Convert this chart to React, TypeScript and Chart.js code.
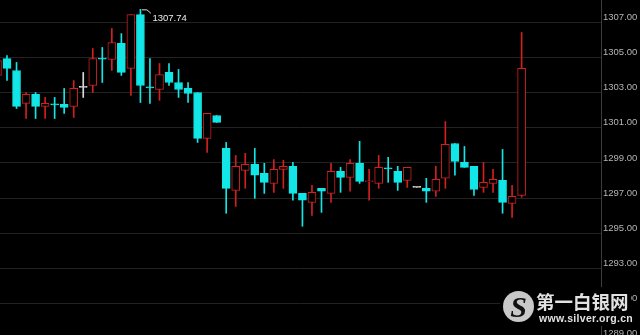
import React, { useEffect, useRef } from "react";
import { Chart, registerables } from "chart.js";

Chart.register(...registerables);

// OHLC values (index 0 is the candle cut by the left edge)
const opens = [
  1303.98, 1304.94, 1304.26, 1302.39, 1302.9, 1302.22, 1302.36, 1302.33, 1302.22, 1303.3,
  1303.41, 1304.97, 1304.89, 1305.8, 1304.38, 1307.44, 1303.33, 1303.18, 1304.15, 1303.58,
  1303.24, 1303.01, 1300.4, 1301.7, 1299.83, 1297.44, 1298.58, 1298.92, 1298.41, 1297.84,
  1298.64, 1298.81, 1297.27, 1296.76, 1297.56, 1297.27, 1298.52, 1298.18, 1298.98, 1297.93,
  1297.84, 1298.72, 1298.52, 1298.01, 1297.61, 1297.56, 1297.39, 1298.13, 1300.11, 1299.03,
  1298.81, 1297.61, 1297.84, 1298.01, 1296.7, 1297.16,
];
const highs = [
  1305.0, 1305.11, 1304.72, 1303.01, 1303.01, 1302.73, 1302.73, 1303.24, 1303.69, 1304.15,
  1305.51, 1305.57, 1306.65, 1306.36, 1307.44, 1307.74, 1304.94, 1304.66, 1304.66, 1304.32,
  1303.58, 1303.01, 1301.82, 1301.7, 1300.17, 1299.43, 1299.55, 1299.83, 1298.98, 1299.2,
  1299.15, 1299.03, 1297.27, 1297.73, 1297.56, 1298.98, 1298.75, 1299.2, 1300.23, 1298.64,
  1299.43, 1299.32, 1298.81, 1298.75, 1297.61, 1298.13, 1298.81, 1301.36, 1300.11, 1299.94,
  1298.81, 1299.03, 1298.64, 1299.77, 1297.73, 1306.42,
];
const lows = [
  1303.8, 1303.69, 1302.1, 1301.53, 1301.53, 1301.53, 1301.53, 1301.82, 1301.59, 1302.73,
  1303.01, 1303.58, 1304.26, 1303.98, 1302.84, 1302.44, 1302.39, 1302.56, 1303.41, 1302.73,
  1302.44, 1300.17, 1299.6, 1301.31, 1296.14, 1296.53, 1297.56, 1296.99, 1297.27, 1297.33,
  1297.56, 1296.88, 1295.4, 1296.02, 1296.19, 1296.76, 1297.33, 1297.39, 1297.84, 1296.88,
  1297.56, 1297.9, 1297.44, 1297.61, 1297.61, 1296.76, 1297.1, 1297.56, 1298.3, 1298.75,
  1297.16, 1297.33, 1297.33, 1296.14, 1295.91, 1297.05,
];
const closes = [
  1304.83, 1304.38, 1302.22, 1302.9, 1302.22, 1302.39, 1302.3, 1302.16, 1303.24, 1303.3,
  1304.94, 1304.91, 1305.85, 1304.15, 1307.44, 1303.41, 1303.27, 1304.03, 1303.58, 1303.18,
  1302.95, 1300.4, 1301.82, 1301.31, 1297.56, 1298.81, 1298.92, 1298.3, 1297.9, 1298.64,
  1298.81, 1297.27, 1296.88, 1297.33, 1297.39, 1298.52, 1298.18, 1298.98, 1297.95, 1297.98,
  1298.75, 1298.66, 1297.9, 1298.75, 1297.61, 1297.39, 1298.07, 1300.06, 1299.09, 1298.75,
  1297.5, 1297.9, 1298.07, 1296.76, 1297.1, 1304.38,
];
const candleIndex = opens.map((_, i) => i);
const yTickValues = [1289, 1291, 1293, 1295, 1297, 1299, 1301, 1303, 1305, 1307];

const RED = "#d02020";
const CYAN = "#12e6e6";
const GRAY = "#d8d8d8";

export default function App() {
  const ref = useRef<HTMLCanvasElement>(null);

  useEffect(() => {
    document.body.style.margin = "0";
    document.body.style.background = "#000";
    const colorOf = (i: number) =>
      closes[i] > opens[i] ? RED : closes[i] < opens[i] ? CYAN : GRAY;
    const colors = candleIndex.map(colorOf);
    const bodyFill = candleIndex.map((i) => (closes[i] > opens[i] ? "#000" : colorOf(i)));

    const markPlugin = {
      id: "maxMark",
      afterDatasetsDraw(chart: any) {
        const { ctx, scales } = chart;
        const hi = Math.max(...highs);
        const i = highs.indexOf(hi);
        const px = scales.x.getPixelForValue(candleIndex[i]);
        const py = scales.y.getPixelForValue(hi);
        ctx.save();
        ctx.strokeStyle = "#d8d8d8";
        ctx.lineWidth = 1;
        ctx.beginPath();
        ctx.moveTo(px + 1.5, py + 0.5);
        ctx.lineTo(px + 6.5, py + 0.5);
        ctx.lineTo(px + 10.5, py + 4);
        ctx.stroke();
        ctx.fillStyle = "#ededed";
        ctx.font = '9.5px "Liberation Sans"';
        ctx.textBaseline = "middle";
        ctx.textAlign = "left";
        ctx.fillText(hi.toFixed(2), px + 12, py + 9);
        ctx.restore();
      },
    };

    const chart = new Chart(ref.current as HTMLCanvasElement, {
      type: "bar",
      data: {
        datasets: [
          {
            label: "body",
            data: candleIndex.map((i) => ({ x: i, y: [opens[i], closes[i]] })) as any,
            backgroundColor: bodyFill,
            borderColor: colors,
            borderWidth: 1,
            borderSkipped: false,
            barThickness: 8,
            minBarLength: 1,
            grouped: false,
          } as any,
          {
            label: "wick",
            data: candleIndex.map((i) => ({ x: i, y: [lows[i], highs[i]] })) as any,
            backgroundColor: colors,
            borderWidth: 0,
            barThickness: 1,
            grouped: false,
          } as any,
        ],
      },
      options: {
        animation: false,
        responsive: false,
        devicePixelRatio: 1,
        layout: { padding: 0 },
        plugins: { legend: { display: false }, tooltip: { enabled: false } },
        scales: {
          x: {
            type: "linear",
            display: false,
            offset: false,
            grid: { offset: false },
            min: 0.2655,
            max: 63.33,
          },
          y: {
            position: "right",
            min: 1289.215,
            max: 1308.271,
            afterBuildTicks: (scale: any) => {
              scale.ticks = yTickValues.map((v) => ({ value: v }));
            },
            afterFit: (scale: any) => {
              scale.width = 39;
              scale.paddingTop = 0;
              scale.paddingBottom = 0;
            },
            grid: { color: "#222222", drawTicks: false, lineWidth: 1 },
            border: { display: true, color: "#3c3c3c" },
            ticks: {
              color: "#b4b4b4",
              padding: 2,
              labelOffset: -5,
              autoSkip: false,
              font: { family: "Liberation Sans", size: 9.5 },
              callback: (v: any) => Number(v).toFixed(2),
            },
          },
        },
      },
      plugins: [markPlugin],
    });
    return () => chart.destroy();
  }, []);

  return (
    <div style={{ position: "relative", width: 640, height: 335, background: "#000", overflow: "hidden" }}>
      <canvas ref={ref} width={640} height={335} style={{ display: "block" }} />
      <div
        style={{
          position: "absolute",
          left: 500,
          top: 287,
          width: 131,
          height: 39,
          background: "#000",
        }}
      >
        <div
          style={{
            position: "absolute",
            left: 3,
            top: 4,
            width: 31,
            height: 31,
            borderRadius: "50%",
            background: "#c8c8c8",
            color: "#111",
            fontFamily: "Liberation Serif",
            fontStyle: "italic",
            fontWeight: "bold",
            fontSize: 30,
            lineHeight: "31px",
            textAlign: "center",
          }}
        >
          S
        </div>
        <div
          style={{
            position: "absolute",
            left: 36,
            top: 3,
            fontFamily: '"Noto Sans CJK SC"',
            fontWeight: "bold",
            fontSize: 18.5,
            lineHeight: "22px",
            color: "#e2e2e2",
            whiteSpace: "nowrap",
          }}
        >
          第一白银网
        </div>
        <div
          style={{
            position: "absolute",
            left: 39,
            top: 25,
            fontFamily: '"Liberation Sans"',
            fontWeight: "bold",
            fontSize: 10.5,
            lineHeight: "12px",
            color: "#e2e2e2",
            whiteSpace: "nowrap",
            letterSpacing: 0.3,
          }}
        >
          www.silver.org.cn
        </div>
      </div>
    </div>
  );
}
